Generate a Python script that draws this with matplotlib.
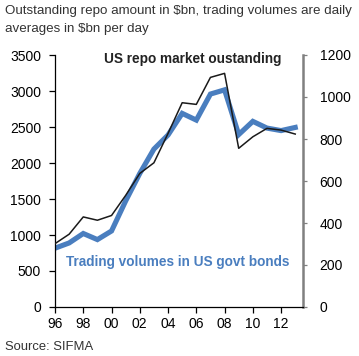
import matplotlib
matplotlib.use("Agg")
import matplotlib.pyplot as plt

plt.rcParams['font.family'] = ['Liberation Sans', 'DejaVu Sans']

# Data
years = list(range(1996, 2014))
repo_outstanding = [880, 1011, 1251, 1205, 1271, 1550, 1855, 2003, 2411,
                    2837, 2814, 3189, 3245, 2204, 2364, 2481, 2457, 2402]
trading_volumes = [280, 305, 350, 321, 362, 505, 636, 752, 819,
                   922, 890, 1014, 1034, 821, 884, 852, 840, 855]

xtick_years = list(range(1996, 2013, 2))
xtick_labels = [f"{y % 100:02d}" for y in xtick_years]
left_ticks = list(range(0, 3501, 500))
right_ticks = list(range(0, 1201, 200))

BLUE = "#4a7ebf"
DARK = "#1a1a1a"
GREY = "#808080"

fig = plt.figure(figsize=(3.59, 3.56), dpi=100)
ax = fig.add_axes([55 / 359, 1 - 307 / 356, 248 / 359, 252 / 356])
ax2 = ax.twinx()

ax.plot(years, repo_outstanding, color=DARK, lw=1.1, zorder=3)
ax2.plot(years, trading_volumes, color=BLUE, lw=3.7, zorder=2,
         solid_joinstyle="miter")
ax.set_zorder(ax2.get_zorder() + 1)
ax.patch.set_visible(False)

ax.set_xlim(1996, 2013.55)
ax.set_ylim(0, 3500)
ax2.set_ylim(0, 1200)

ax.set_xticks(xtick_years)
ax.set_xticklabels(xtick_labels)
ax.set_yticks(left_ticks)
ax2.set_yticks(right_ticks)

for a in (ax, ax2):
    a.spines['top'].set_visible(False)
ax.spines['right'].set_visible(False)
ax2.spines['left'].set_visible(False)
ax2.spines['bottom'].set_visible(False)
ax2.spines['right'].set_color(GREY)
ax2.spines['right'].set_linewidth(1.8)
ax.spines['left'].set_linewidth(0.9)
ax.spines['bottom'].set_linewidth(0.9)

ax.tick_params(axis='y', direction='out', length=4, width=0.9,
               labelsize=10, pad=6)
ax.tick_params(axis='x', direction='out', length=4, width=0.9,
               labelsize=10, pad=3)
ax2.tick_params(axis='y', direction='out', length=3, width=0.9,
                color=GREY, labelsize=10, pad=9)

ax.text(0.554, 0.985, "US repo market oustanding", transform=ax.transAxes,
        ha='center', va='center', fontsize=9.8, fontweight='bold', color="#222222")
ax.text(0.494, 0.179, "Trading volumes in US govt bonds", transform=ax.transAxes,
        ha='center', va='center', fontsize=9.8, fontweight='bold', color=BLUE)

fig.text(5 / 359, 1 - 11 / 356,
         "Outstanding repo amount in $bn, trading volumes are daily",
         ha='left', va='center', fontsize=9.6, color="#333333")
fig.text(5 / 359, 1 - 29 / 356, "averages in $bn per day",
         ha='left', va='center', fontsize=9.6, color="#333333")
fig.text(5 / 359, 1 - 347 / 356, "Source: SIFMA",
         ha='left', va='center', fontsize=9.4, color="#333333")

fig.savefig("out.png", dpi=100)
